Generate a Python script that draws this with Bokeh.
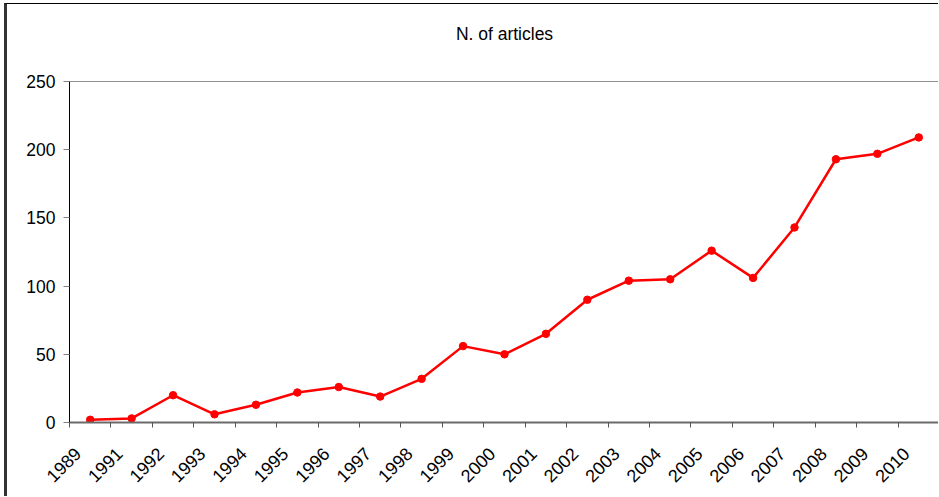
import math
from bokeh.plotting import figure
from bokeh.models import (Range1d, FixedTicker, LinearAxis)
from bokeh.embed import file_html
from bokeh.resources import INLINE

# ---- data ----
years = ["1989", "1991", "1992", "1993", "1994", "1995", "1996", "1997",
         "1998", "1999", "2000", "2001", "2002", "2003", "2004", "2005",
         "2006", "2007", "2008", "2009", "2010"]
articles = [2, 3, 20, 6, 13, 22, 26, 19, 32, 56, 50, 65, 90, 104, 105,
            126, 106, 143, 193, 197, 209]
y_ticks = [0, 50, 100, 150, 200, 250]
title_text = "N. of articles"

FONT = "Liberation Sans"
n = len(years)
xs = list(range(n))
LAB_SHIFT = 0.3  # labels sit slightly left of category centre (Excel style)

p = figure(width=934, height=493, output_backend="svg", toolbar_location=None,
           x_range=Range1d(-0.5, n - 0.5), y_range=Range1d(0, 250),
           min_border_left=62, min_border_right=2, min_border_top=77,
           min_border_bottom=75, x_axis_type=None, y_axis_type=None,
           margin=(3, 0, 0, 4))
p.styles = {"border-left": "3px solid #333333", "border-top": "1px solid #000000"}

p.background_fill_color = "white"
p.border_fill_color = "white"
p.outline_line_color = "#909090"
p.outline_line_width = 1

# chart title drawn as the label of an invisible axis above the frame
# (bounds shift its centre to the chart-area centre, as in the original)
tax = LinearAxis(ticker=FixedTicker(ticks=[]), bounds=(-0.5, 19.24))
tax.axis_label = title_text
tax.axis_label_text_font = FONT
tax.axis_label_text_font_size = "17.5px"
tax.axis_label_text_font_style = "normal"
tax.axis_label_text_color = "black"
tax.axis_label_standoff = 38
tax.axis_line_color = None
tax.major_tick_line_color = None
tax.minor_tick_line_color = None
tax.major_tick_out = 0
tax.minor_tick_out = 0
p.add_layout(tax, "above")

# y axis
yax = LinearAxis(ticker=FixedTicker(ticks=y_ticks))
yax.axis_line_color = "black"
yax.axis_line_width = 1
yax.major_tick_out = 6
yax.major_tick_in = 0
yax.major_tick_line_color = "#808080"
yax.minor_tick_line_color = None
yax.major_label_text_font = FONT
yax.major_label_text_font_size = "17.5px"
yax.major_label_text_color = "black"
yax.major_label_standoff = 8
p.add_layout(yax, "left")

# x axis: labels at (shifted) category positions, minor ticks at boundaries
p.extra_x_ranges = {"lab": Range1d(-0.5 + LAB_SHIFT, n - 0.5 + LAB_SHIFT)}
boundaries = [i - 0.5 + LAB_SHIFT for i in range(n + 1)]
xax = LinearAxis(x_range_name="lab",
                 ticker=FixedTicker(ticks=xs, minor_ticks=boundaries))
xax.major_label_overrides = {i: years[i] for i in xs}
xax.axis_line_color = "#6a6a6a"
xax.axis_line_width = 2
xax.major_tick_line_color = None
xax.major_tick_out = 0
xax.major_tick_in = 0
xax.minor_tick_line_color = "#555555"
xax.minor_tick_out = 5
xax.minor_tick_in = 0
xax.major_label_orientation = math.pi / 4
xax.major_label_text_font = FONT
xax.major_label_text_font_size = "18px"
xax.major_label_text_color = "black"
xax.major_label_standoff = 23
p.add_layout(xax, "below")

# grid
p.ygrid.ticker = FixedTicker(ticks=y_ticks)
p.ygrid.grid_line_color = "#8a8a8a"
p.ygrid.grid_line_width = 1
p.xgrid.grid_line_color = None

# series
p.line(xs, articles, line_color="#ff0000", line_width=2.5)
p.scatter(xs, articles, size=7.5, fill_color="#ff0000", line_color="#ff0000")

open("out.html", "w").write(file_html(p, INLINE))
